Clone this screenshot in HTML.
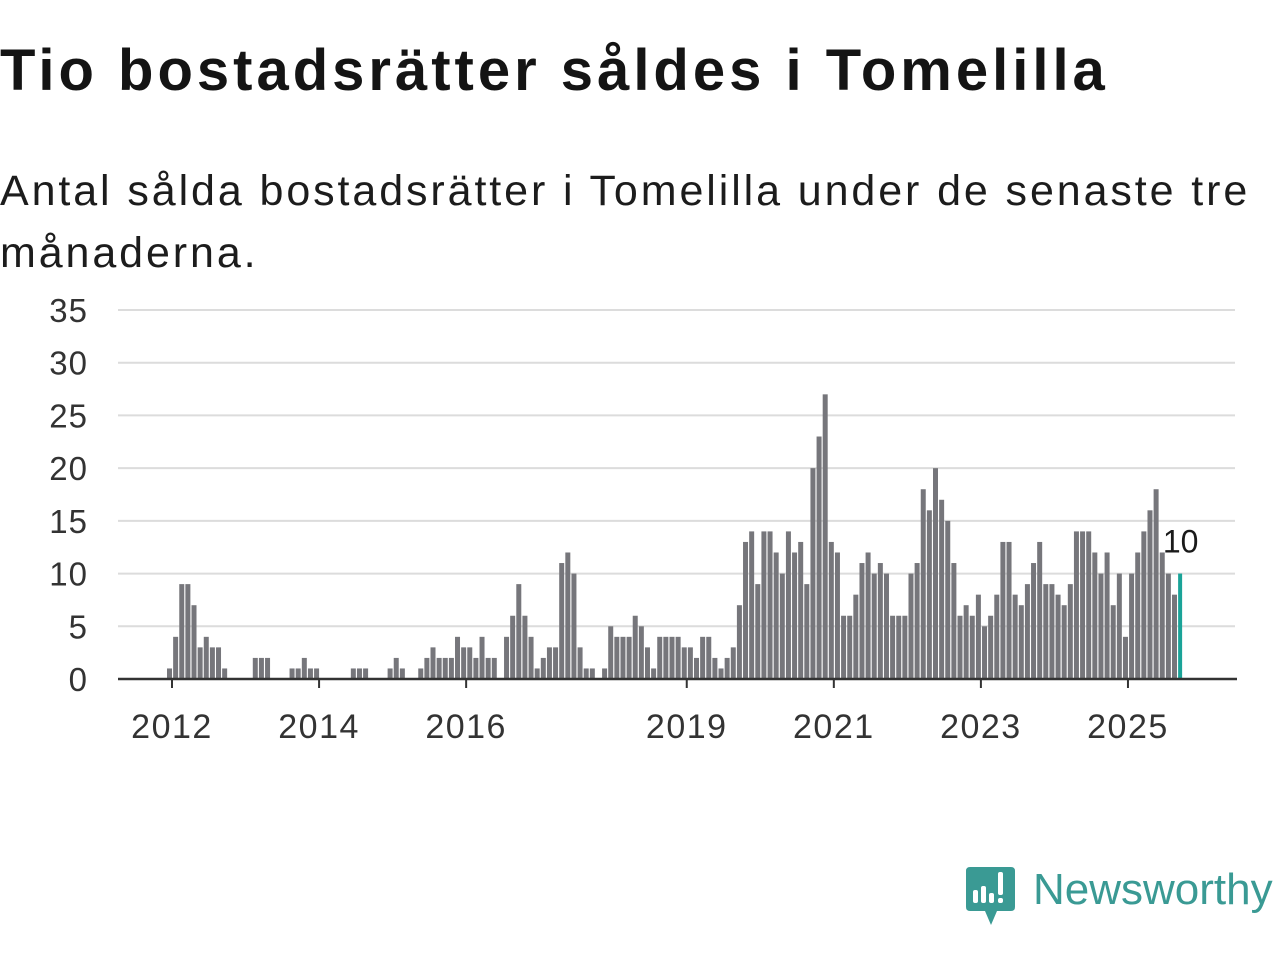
<!DOCTYPE html>
<html><head><meta charset="utf-8"><style>
body{margin:0;background:#fff;width:1280px;height:960px;overflow:hidden;font-family:"Liberation Sans",sans-serif;color:#111}
#title{position:absolute;left:0;top:37px;font-size:58px;font-weight:bold;margin:0;color:#141414;letter-spacing:4px;white-space:nowrap}
#sub{position:absolute;left:0;top:160px;font-size:43px;line-height:62px;color:#1c1c1c;width:1275px;letter-spacing:2.9px}
svg{position:absolute;left:0;top:0}
</style></head><body>
<h1 id="title">Tio bostadsrätter såldes i Tomelilla</h1>
<div id="sub">Antal sålda bostadsrätter i Tomelilla under de senaste tre månaderna.</div>
<svg id="chart" width="1280" height="960"></svg>
<svg width="1280" height="960" style="pointer-events:none">
<path d="M970 867 H1011 Q1015 867 1015 871 V907 Q1015 911 1011 911 H997 L991 925 L985 911 H970 Q966 911 966 907 V871 Q966 867 970 867Z" fill="#3a9a94"/>
<rect x="973" y="890" width="5" height="13" rx="2" fill="#fff"/>
<rect x="981" y="886" width="5" height="17" rx="2" fill="#fff"/>
<rect x="989" y="893" width="5" height="10" rx="2" fill="#fff"/>
<rect x="998" y="872" width="5" height="23" rx="2" fill="#fff"/>
<rect x="998" y="898" width="5" height="5" rx="2" fill="#fff"/>
<text x="1033" y="904" font-size="44" fill="#3a9a94" font-family="Liberation Sans, sans-serif">Newsworthy</text>
</svg>
<script>
const values = [1,4,9,9,7,3,4,3,3,1,0,0,0,0,2,2,2,0,0,0,1,1,2,1,1,0,0,0,0,0,1,1,1,0,0,0,1,2,1,0,0,1,2,3,2,2,2,4,3,3,2,4,2,2,0,4,6,9,6,4,1,2,3,3,11,12,10,3,1,1,0,1,5,4,4,4,6,5,3,1,4,4,4,4,3,3,2,4,4,2,1,2,3,7,13,14,9,14,14,12,10,14,12,13,9,20,23,27,13,12,6,6,8,11,12,10,11,10,6,6,6,10,11,18,16,20,17,15,11,6,7,6,8,5,6,8,13,13,8,7,9,11,13,9,9,8,7,9,14,14,14,12,10,12,7,10,4,10,12,14,16,18,12,10,8,10];
const yTicks = [0,5,10,15,20,25,30,35];
const xTickYears = [2012,2014,2016,2019,2021,2023,2025];
const startYear = 2012;
const lastLabel = "10";

const svg = document.getElementById('chart');
const NS = 'http://www.w3.org/2000/svg';
const y0 = 679, yTop = 310, yMax = 35;
const x0 = 169.5, step = 6.128;
const ys = v => y0 - v * (y0 - yTop) / yMax;
const xs = i => x0 + i * step;
function mk(t, a){const e=document.createElementNS(NS,t);for(const k in a)e.setAttribute(k,a[k]);svg.appendChild(e);return e;}

yTicks.forEach(t=>{
  const g = mk('line',{x1:118,x2:1235,y1:ys(t),y2:ys(t),stroke:'#dcdcdc','stroke-width':2});
  
  
  const l = mk('text',{x:88,y:ys(t)+12,'text-anchor':'end','font-size':33,'letter-spacing':1,fill:'#333'});
  l.textContent = t;
  
  
});

values.forEach((v,i)=>{
  if(v<=0) return;
  const last = i===values.length-1;
  const r = mk('rect',{x:xs(i)-2.5,y:ys(v),width:last?4:5,height:y0-ys(v),fill:last?'#1aa398':'#76767b'});
  
  
});

const li = values.length-1;
const vl = mk('text',{x:xs(li),y:ys(values[li])-21,'text-anchor':'middle','font-size':32,fill:'#1a1a1a'});
vl.textContent = lastLabel;



const ax = mk('line',{x1:118,x2:1237,y1:y0,y2:y0,stroke:'#333','stroke-width':2.5});



xTickYears.forEach(yr=>{
  const xi = 172 + (yr-startYear)*12*step;
  const tk = mk('line',{x1:xi,x2:xi,y1:y0,y2:y0+9,stroke:'#333','stroke-width':2});
  
  
  const t = mk('text',{x:xi,y:738,'text-anchor':'middle','font-size':34,'letter-spacing':1.5,fill:'#333'});
  t.textContent = yr;
  
  
});
</script>
</body></html>
